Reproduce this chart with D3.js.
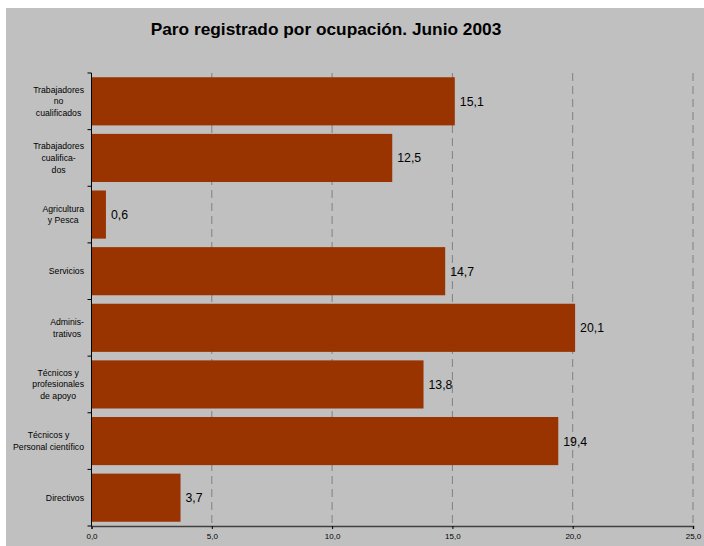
<!DOCTYPE html>
<html>
<head>
<meta charset="utf-8">
<script src="https://cdn.jsdelivr.net/npm/d3@7"></script>
<style>
  body { margin: 0; background: #fff; }
  svg { display: block; font-family: "Liberation Sans", Arial, sans-serif; }
</style>
</head>
<body>
<div id="chart"></div>
<script>
// categories top to bottom, each one a list of wrapped lines
const categories = [
  ["Trabajadores", "no", "cualificados"],
  ["Trabajadores", "cualifica-", "dos"],
  ["Agricultura", "y Pesca"],
  ["Servicios"],
  ["Adminis-", "trativos"],
  ["Técnicos y", "profesionales", "de apoyo"],
  ["Técnicos y", "Personal científico"],
  ["Directivos"]
];
const values = [15.1, 12.5, 0.6, 14.7, 20.1, 13.8, 19.4, 3.7];
const xTicks = [0, 5, 10, 15, 20, 25];

const width = 704, height = 546;
const margin = {top: 73, right: 11, bottom: 20, left: 91.5};

let svg = d3.select("#chart").append("svg")
  .attr("width", width)
  .attr("height", height);

// grey chart area
svg.append("rect")
  .attr("x", 6).attr("y", 8)
  .attr("width", width - 6).attr("height", height - 8)
  .attr("fill", "#c0c0c0");

svg.append("text")
  .attr("x", 326)
  .attr("y", 35)
  .attr("text-anchor", "middle")
  .style("font-size", "17.3px")
  .style("font-weight", "bold")
  .style("fill", "#000")
  .text("Paro registrado por ocupación. Junio 2003");

let x = d3.scaleLinear()
  .domain([0, 25])
  .range([margin.left, width - margin.right]);

let y = d3.scaleBand()
  .domain(d3.range(categories.length))
  .range([margin.top, height - margin.bottom])
  .paddingInner(0.15)
  .paddingOuter(0.075);

const plotBottom = height - margin.bottom;

// dashed grid
svg.append("g")
  .selectAll("line")
  .data(xTicks.slice(1))
  .enter()
  .append("line")
  .attr("x1", d => x(d)).attr("x2", d => x(d))
  .attr("y1", margin.top).attr("y2", plotBottom)
  .attr("stroke", "#808080")
  .attr("stroke-width", 1)
  .attr("stroke-dasharray", "8,5");

// bars
svg.selectAll("rect.bar")
  .data(values)
  .enter()
  .append("rect")
  .attr("class", "bar")
  .attr("x", x(0))
  .attr("y", (d, i) => y(i))
  .attr("width", d => x(d) - x(0))
  .attr("height", y.bandwidth())
  .attr("fill", "#993300");

// value labels
svg.selectAll("text.valueLabel")
  .data(values)
  .enter()
  .append("text")
  .attr("class", "valueLabel")
  .attr("x", d => x(d) + 5)
  .attr("y", (d, i) => y(i) + y.bandwidth() / 2 + 4.5)
  .style("font-size", "12.3px")
  .style("fill", "#000")
  .text(d => d3.format(".1f")(d).replace(".", ","));

// x axis
let xAxis = d3.axisBottom(x)
  .tickValues(xTicks)
  .tickSize(3)
  .tickFormat(d => d3.format(".1f")(d).replace(".", ","));

let gx = svg.append("g")
  .attr("transform", `translate(0, ${plotBottom})`)
  .call(xAxis);
gx.select(".domain").attr("stroke", "#404040").attr("stroke-width", 1.6);
gx.selectAll(".tick line").attr("stroke", "#000");
gx.selectAll(".tick text")
  .attr("dy", "0.9em")
  .style("font-size", "8px")
  .style("font-family", "'Liberation Sans', Arial, sans-serif")
  .style("fill", "#000");

// y axis line and ticks at category boundaries
svg.append("line")
  .attr("x1", x(0)).attr("x2", x(0))
  .attr("y1", margin.top).attr("y2", plotBottom)
  .attr("stroke", "#000");

const step = y.step();
svg.append("g")
  .selectAll("line")
  .data(d3.range(categories.length + 1))
  .enter()
  .append("line")
  .attr("x1", x(0) - 4).attr("x2", x(0))
  .attr("y1", i => margin.top + i * step)
  .attr("y2", i => margin.top + i * step)
  .attr("stroke", "#000");

// category labels: centred lines, block right aligned
const lineH = 11.6;
let catGroups = svg.selectAll("g.cat")
  .data(categories)
  .enter()
  .append("g")
  .attr("class", "cat");

catGroups.each(function(lines, i) {
  let g = d3.select(this);
  let cy = y(i) + y.bandwidth() / 2;
  let texts = g.selectAll("text")
    .data(lines)
    .enter()
    .append("text")
    .attr("y", (d, j) => cy + (j - (lines.length - 1) / 2) * lineH + 3)
    .attr("text-anchor", "middle")
    .style("font-size", "8.7px")
    .style("fill", "#000")
    .text(d => d);
  let maxW = d3.max(texts.nodes(), n => n.getComputedTextLength());
  texts.attr("x", 84 - maxW / 2);
});
</script>
</body>
</html>
